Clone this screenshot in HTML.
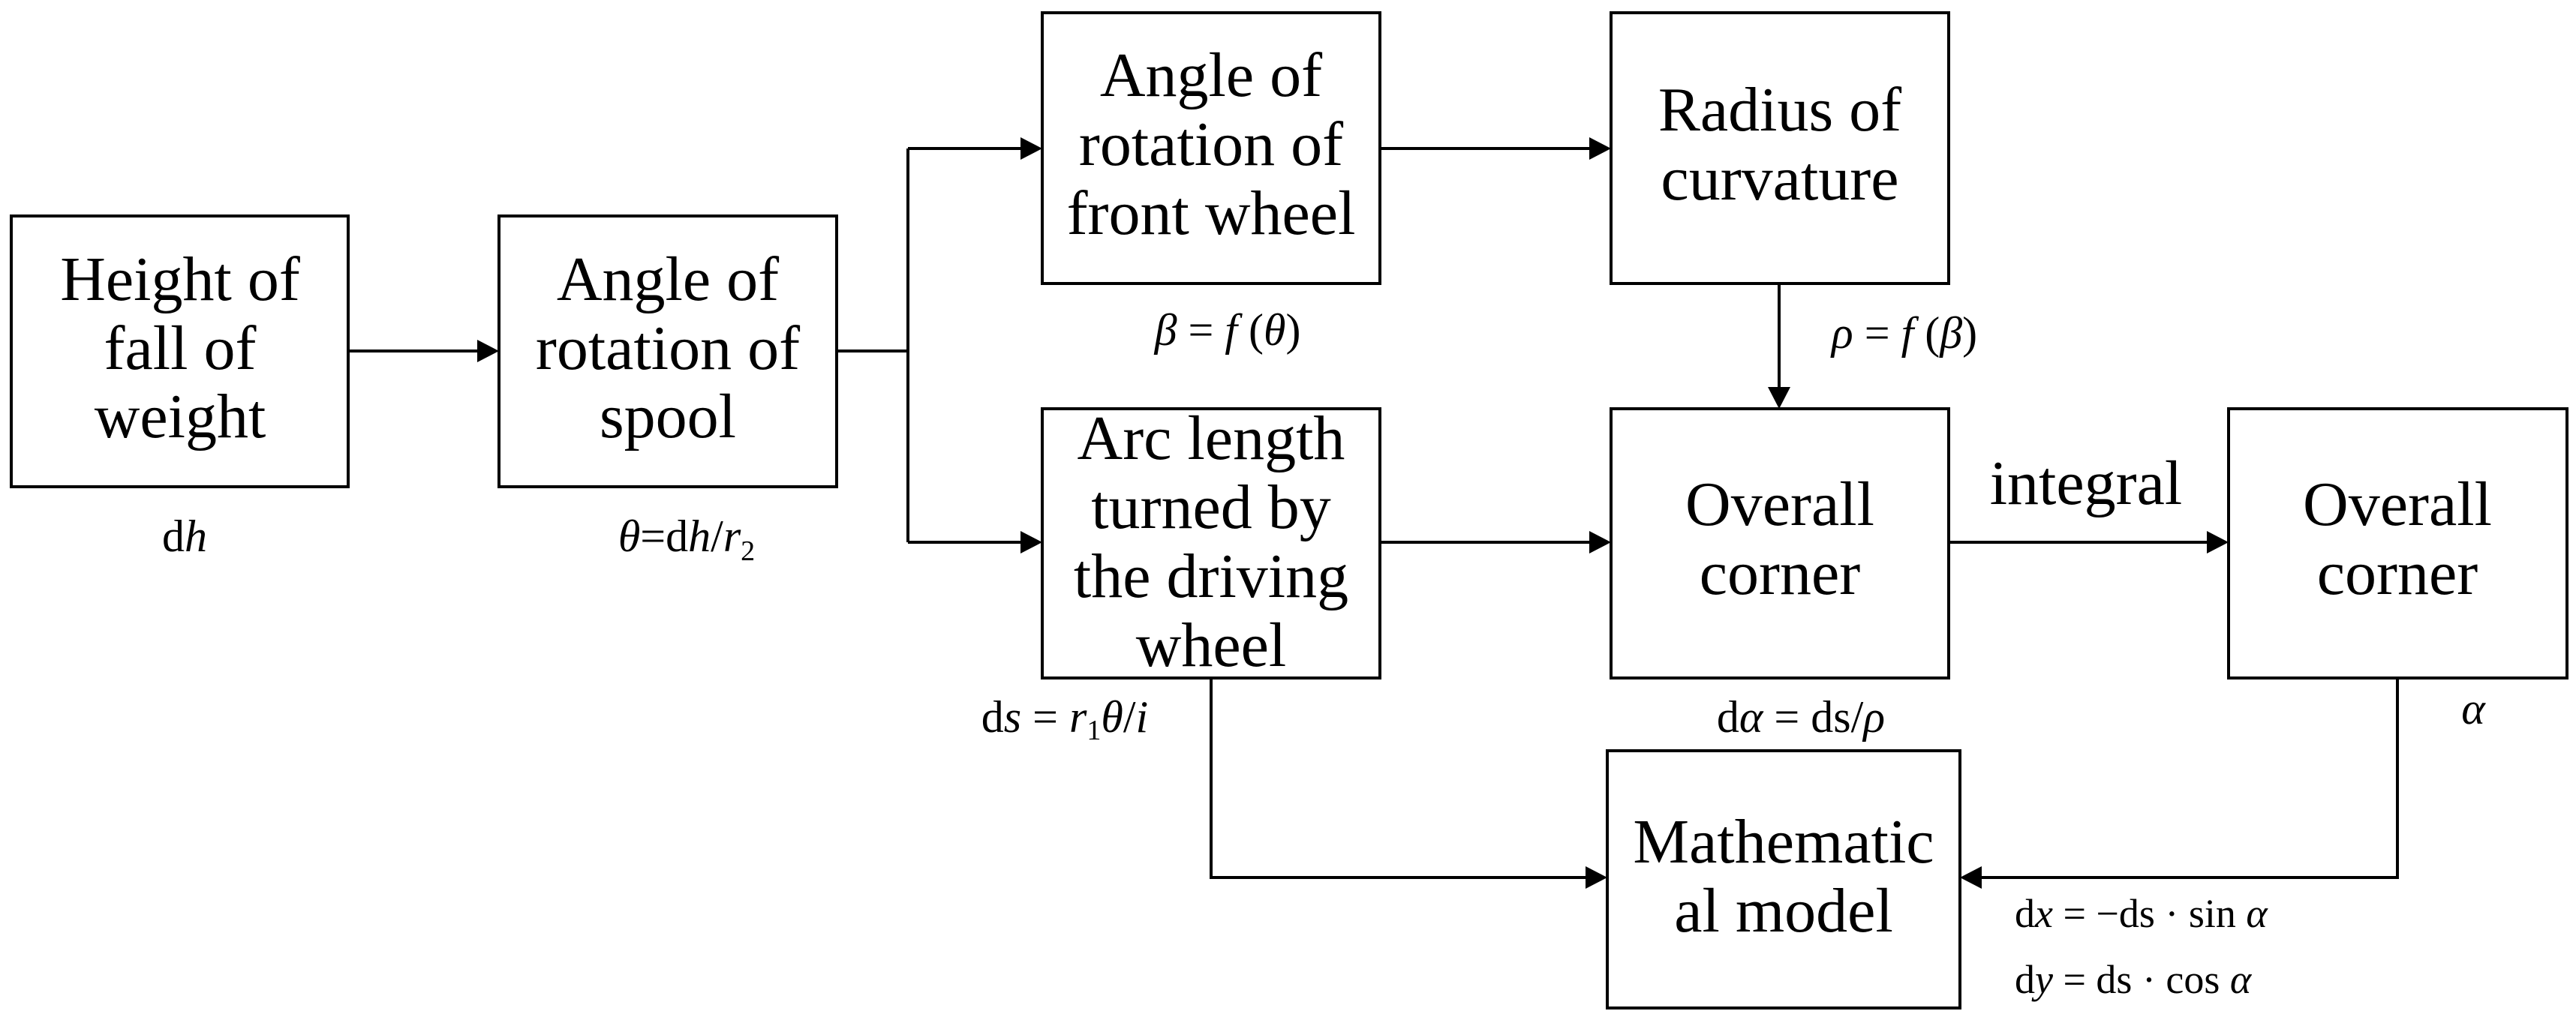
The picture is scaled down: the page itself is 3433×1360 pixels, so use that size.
<!DOCTYPE html>
<html><head><meta charset="utf-8"><style>
html,body{margin:0;padding:0;background:#fff;}
svg{display:block;}
text{font-family:"Liberation Serif",serif;fill:#000;}
.b{font-size:84px;text-anchor:middle;}
.m{font-size:60px;text-anchor:middle;}
</style></head><body>
<svg width="3433" height="1360" viewBox="0 0 3433 1360" xmlns="http://www.w3.org/2000/svg">
<g fill="none" stroke="#000" stroke-width="4">
<rect x="15" y="288" width="449" height="361"/>
<rect x="665" y="288" width="450" height="361"/>
<rect x="1389" y="17" width="450" height="361"/>
<rect x="1389" y="545" width="450" height="359"/>
<rect x="2147" y="17" width="450" height="361"/>
<rect x="2147" y="545" width="450" height="359"/>
<rect x="2970" y="545" width="451" height="359"/>
<rect x="2142" y="1001" width="470" height="343"/>
<polyline points="464,468 645,468"/>
<polyline points="1115,468 1210,468"/>
<polyline points="1210,198 1210,723"/>
<polyline points="1210,198 1369,198"/>
<polyline points="1210,723 1369,723"/>
<polyline points="1839,198 2127,198"/>
<polyline points="2371,378 2371,525"/>
<polyline points="1839,723 2127,723"/>
<polyline points="2597,723 2950,723"/>
<polyline points="1614,904 1614,1170 2122,1170"/>
<polyline points="3195,904 3195,1170 2632,1170"/>
</g>
<g fill="#000">
<polygon points="665,468 636,453 636,483"/>
<polygon points="1389,198 1360,183 1360,213"/>
<polygon points="1389,723 1360,708 1360,738"/>
<polygon points="2147,198 2118,183 2118,213"/>
<polygon points="2371,545 2356,516 2386,516"/>
<polygon points="2147,723 2118,708 2118,738"/>
<polygon points="2970,723 2941,708 2941,738"/>
<polygon points="2142,1170 2113,1155 2113,1185"/>
<polygon points="2612,1170 2641,1155 2641,1185"/>
</g>
<text class="b" x="240" y="400">Height of</text>
<text class="b" x="240" y="492">fall of</text>
<text class="b" x="240" y="583">weight</text>
<text class="b" x="890" y="400">Angle of</text>
<text class="b" x="890" y="492">rotation of</text>
<text class="b" x="890" y="583">spool</text>
<text class="b" x="1614" y="128">Angle of</text>
<text class="b" x="1614" y="220">rotation of</text>
<text class="b" x="1614" y="312">front wheel</text>
<text class="b" x="2372" y="174">Radius of</text>
<text class="b" x="2372" y="266">curvature</text>
<text class="b" x="1614" y="612">Arc length</text>
<text class="b" x="1614" y="704">turned by</text>
<text class="b" x="1614" y="796">the driving</text>
<text class="b" x="1614" y="888">wheel</text>
<text class="b" x="2372" y="700">Overall</text>
<text class="b" x="2372" y="792">corner</text>
<text class="b" x="3195" y="700">Overall</text>
<text class="b" x="3195" y="792">corner</text>
<text class="b" x="2377" y="1150">Mathematic</text>
<text class="b" x="2377" y="1242">al model</text>
<text class="b" x="2780" y="672">integral</text>
<text class="m" x="246" y="735">d<tspan font-style="italic">h</tspan></text>
<text class="m" x="915" y="735"><tspan font-style="italic">θ</tspan>=d<tspan font-style="italic">h</tspan>/<tspan font-style="italic">r</tspan><tspan font-size="38" dy="12">2</tspan></text>
<text class="m" x="1636" y="460" font-size="70"><tspan font-style="italic">β</tspan> = <tspan font-style="italic">f</tspan> (<tspan font-style="italic">θ</tspan>)</text>
<text class="m" x="2538" y="464" font-size="70"><tspan font-style="italic">ρ</tspan> = <tspan font-style="italic">f</tspan> (<tspan font-style="italic">β</tspan>)</text>
<text class="m" x="1419" y="976" font-size="66">d<tspan font-style="italic">s</tspan> = <tspan font-style="italic">r</tspan><tspan font-size="38" dy="10">1</tspan><tspan dy="-10" font-style="italic">θ</tspan>/<tspan font-style="italic">i</tspan></text>
<text class="m" x="2400" y="976" font-size="66">d<tspan font-style="italic">α</tspan> = ds/<tspan font-style="italic">ρ</tspan></text>
<text class="m" x="3296" y="965" font-style="italic">α</text>
<text x="2685" y="1236" font-size="54">d<tspan font-style="italic">x</tspan> = −ds · sin <tspan font-style="italic">α</tspan></text>
<text x="2685" y="1324" font-size="54">d<tspan font-style="italic">y</tspan> = ds · cos <tspan font-style="italic">α</tspan></text>
</svg>
</body></html>
